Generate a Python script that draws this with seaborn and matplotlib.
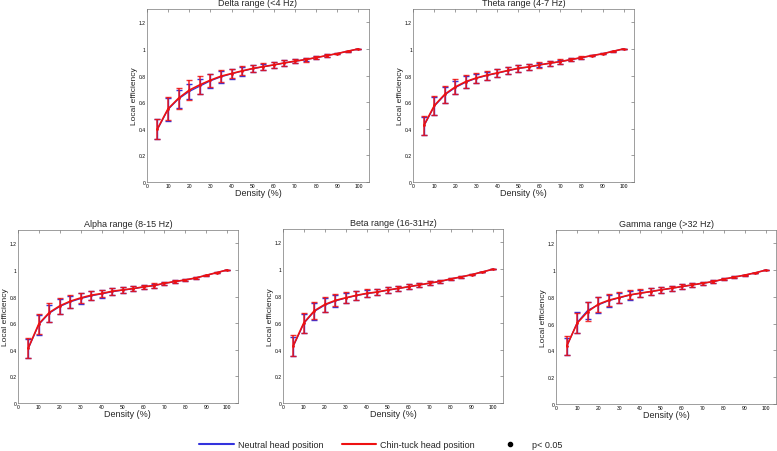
import numpy as np
import pandas as pd
import matplotlib
matplotlib.use("Agg")
import matplotlib.pyplot as plt
from matplotlib.lines import Line2D
import seaborn as sns

density = [5, 10, 15, 20, 25, 30, 35, 40, 45, 50, 55, 60, 65, 70, 75, 80, 85, 90, 95, 100]

titles = ["Delta range (<4 Hz)", "Theta range (4-7 Hz)", "Alpha range (8-15 Hz)",
          "Beta range (16-31Hz)", "Gamma range (>32 Hz)"]

# chin-tuck (red) means and half error bars
delta_chin = [0.40, 0.55, 0.63, 0.69, 0.73, 0.765, 0.795, 0.815, 0.835, 0.853, 0.867, 0.88, 0.895,
              0.908, 0.92, 0.935, 0.95, 0.965, 0.983, 1.0]
delta_chin_err = [0.075, 0.087, 0.08, 0.075, 0.065, 0.048, 0.045, 0.035, 0.033, 0.028, 0.025, 0.022,
                  0.02, 0.015, 0.015, 0.01, 0.008, 0.005, 0.003, 0.0]
delta_neut = [0.395, 0.545, 0.625, 0.68, 0.72, 0.76, 0.79, 0.813, 0.833, 0.851, 0.866, 0.879, 0.894,
              0.907, 0.92, 0.934, 0.95, 0.965, 0.983, 1.0]
delta_neut_err = [0.075, 0.085, 0.07, 0.06, 0.055, 0.05, 0.045, 0.036, 0.033, 0.028, 0.024, 0.023,
                  0.02, 0.016, 0.014, 0.01, 0.008, 0.005, 0.003, 0.0]

theta_chin = [0.425, 0.575, 0.66, 0.715, 0.755, 0.782, 0.803, 0.82, 0.838, 0.855, 0.865, 0.88, 0.893,
              0.905, 0.92, 0.935, 0.95, 0.963, 0.982, 1.0]
theta_chin_err = [0.07, 0.07, 0.065, 0.057, 0.048, 0.038, 0.033, 0.03, 0.028, 0.025, 0.02, 0.02,
                  0.018, 0.017, 0.012, 0.008, 0.006, 0.004, 0.002, 0.0]
theta_neut = [0.42, 0.57, 0.655, 0.71, 0.75, 0.78, 0.8, 0.818, 0.836, 0.853, 0.864, 0.879, 0.892,
              0.904, 0.919, 0.934, 0.95, 0.963, 0.982, 1.0]
theta_neut_err = [0.07, 0.07, 0.06, 0.05, 0.045, 0.035, 0.03, 0.028, 0.026, 0.024, 0.02, 0.018,
                  0.017, 0.015, 0.011, 0.008, 0.006, 0.004, 0.002, 0.0]

alpha_chin = [0.415, 0.595, 0.68, 0.73, 0.765, 0.79, 0.81, 0.823, 0.84, 0.85, 0.86, 0.873, 0.883,
              0.9, 0.913, 0.925, 0.94, 0.96, 0.98, 1.0]
alpha_chin_err = [0.075, 0.075, 0.07, 0.058, 0.048, 0.04, 0.033, 0.028, 0.025, 0.02, 0.02, 0.015,
                  0.018, 0.013, 0.012, 0.01, 0.006, 0.004, 0.002, 0.0]
alpha_neut = [0.41, 0.59, 0.675, 0.725, 0.76, 0.785, 0.805, 0.82, 0.836, 0.848, 0.858, 0.872, 0.882,
              0.899, 0.912, 0.925, 0.94, 0.96, 0.98, 1.0]
alpha_neut_err = [0.075, 0.075, 0.065, 0.055, 0.045, 0.038, 0.033, 0.03, 0.025, 0.022, 0.02, 0.016,
                  0.016, 0.013, 0.012, 0.01, 0.006, 0.004, 0.002, 0.0]

beta_chin = [0.43, 0.6, 0.69, 0.737, 0.767, 0.787, 0.805, 0.82, 0.83, 0.845, 0.857, 0.87, 0.883,
             0.897, 0.91, 0.928, 0.943, 0.96, 0.98, 1.0]
beta_chin_err = [0.075, 0.075, 0.065, 0.055, 0.045, 0.04, 0.033, 0.03, 0.025, 0.025, 0.018, 0.017,
                 0.016, 0.013, 0.01, 0.008, 0.005, 0.004, 0.002, 0.0]
beta_neut = [0.425, 0.595, 0.685, 0.732, 0.763, 0.785, 0.803, 0.818, 0.829, 0.844, 0.856, 0.869, 0.882,
             0.896, 0.909, 0.927, 0.943, 0.96, 0.98, 1.0]
beta_neut_err = [0.072, 0.073, 0.062, 0.055, 0.045, 0.038, 0.033, 0.028, 0.025, 0.022, 0.018, 0.017,
                 0.016, 0.013, 0.01, 0.008, 0.005, 0.004, 0.002, 0.0]

gamma_chin = [0.435, 0.605, 0.69, 0.745, 0.775, 0.795, 0.815, 0.828, 0.84, 0.853, 0.865, 0.878, 0.89,
              0.903, 0.915, 0.933, 0.948, 0.963, 0.98, 1.0]
gamma_chin_err = [0.07, 0.075, 0.07, 0.058, 0.045, 0.04, 0.033, 0.028, 0.025, 0.022, 0.018, 0.017,
                  0.016, 0.012, 0.01, 0.008, 0.006, 0.004, 0.002, 0.0]
gamma_neut = [0.43, 0.61, 0.7, 0.74, 0.772, 0.793, 0.813, 0.827, 0.839, 0.852, 0.864, 0.877, 0.889,
              0.902, 0.914, 0.932, 0.948, 0.963, 0.98, 1.0]
gamma_neut_err = [0.065, 0.078, 0.065, 0.06, 0.045, 0.038, 0.033, 0.028, 0.025, 0.022, 0.02, 0.02,
                  0.016, 0.013, 0.01, 0.008, 0.006, 0.004, 0.002, 0.0]

bands = [
    (delta_neut, delta_neut_err, delta_chin, delta_chin_err),
    (theta_neut, theta_neut_err, theta_chin, theta_chin_err),
    (alpha_neut, alpha_neut_err, alpha_chin, alpha_chin_err),
    (beta_neut, beta_neut_err, beta_chin, beta_chin_err),
    (gamma_neut, gamma_neut_err, gamma_chin, gamma_chin_err),
]

sns.set_style("white")
plt.rcParams['font.family'] = ['Liberation Sans', 'DejaVu Sans']

positions = [
    [0.189, 0.595, 0.286, 0.383],
    [0.532, 0.595, 0.284, 0.383],
    [0.023, 0.106, 0.283, 0.383],
    [0.364, 0.106, 0.284, 0.385],
    [0.716, 0.104, 0.283, 0.385],
]

blue = "#3333dd"
red = "#ee1111"

fig = plt.figure(figsize=(7.77, 4.52), dpi=100)
for pos, title, (neut, neut_err, chin, chin_err) in zip(positions, titles, bands):
    ax = fig.add_axes(pos)
    ax.errorbar(density, neut, yerr=neut_err, fmt="none", ecolor=blue, elinewidth=1.0,
                capsize=2.5, capthick=1.0, zorder=2)
    sns.lineplot(x=density, y=neut, color=blue, linewidth=0.9, ax=ax, zorder=3)
    ax.errorbar(density, chin, yerr=chin_err, fmt="none", ecolor=red, elinewidth=1.2,
                capsize=2.5, capthick=1.0, alpha=0.85, zorder=4)
    sns.lineplot(x=density, y=chin, color=red, marker="o", markersize=2, markeredgewidth=0,
                 linewidth=1.2, ax=ax, zorder=5)
    ax.set_xlim(0, 105)
    ax.set_ylim(0, 1.3)
    ax.set_xticks(range(0, 101, 10))
    ax.set_yticks([0, 0.2, 0.4, 0.6, 0.8, 1.0, 1.2])
    ax.set_yticklabels(["0", "0.2", "0.4", "0.6", "0.8", "1", "1.2"])
    ax.tick_params(direction="in", length=2, width=0.4, labelsize=3.6, top=True, right=True,
                   colors="#555555", labelcolor="black", pad=1)
    for sp in ax.spines.values():
        sp.set_linewidth(0.5)
        sp.set_color("#777777")
    ax.set_title(title, fontsize=6.5, pad=3)
    ax.set_xlabel("Density (%)", fontsize=6.5, labelpad=0)
    ax.set_ylabel("Local efficiency", fontsize=6)
    ax.yaxis.set_label_coords(-0.041, 0.5)

handles = [
    Line2D([0], [0], color=blue, lw=1.5, label="Neutral head position"),
    Line2D([0], [0], color=red, lw=1.5, label="Chin-tuck head position"),
    Line2D([0], [0], color="black", lw=0, marker="o", markersize=3, label="p< 0.05"),
]
fig.legend(handles=handles, loc="center", bbox_to_anchor=(0.49, 0.015), ncol=3, frameon=False,
           fontsize=6.5, handlelength=3.8, columnspacing=2.0, handletextpad=0.5)

fig.savefig("out.png", dpi=100)
